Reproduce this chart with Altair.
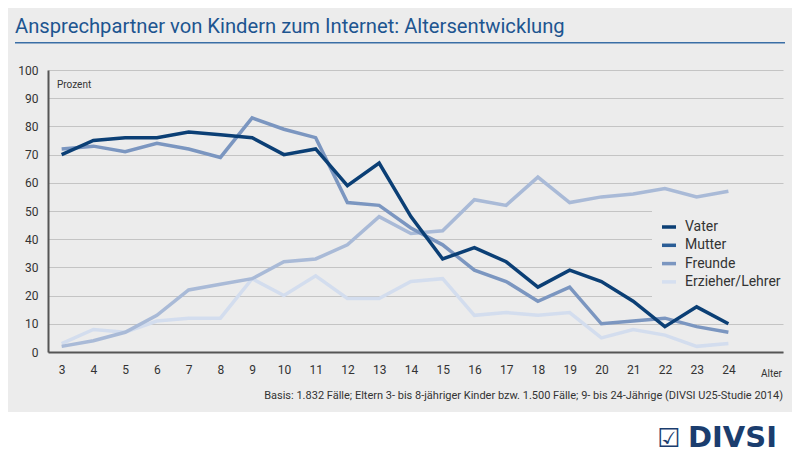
import altair as alt
import pandas as pd

ages = list(range(3, 25))
vater = [70, 75, 76, 76, 78, 77, 76, 70, 72, 59, 67, 48, 33, 37, 32, 23, 29, 25, 18, 9, 16, 10]
mutter = [72, 73, 71, 74, 72, 69, 83, 79, 76, 53, 52, 44, 38, 29, 25, 18, 23, 10, 11, 12, 9, 7]
freunde = [2, 4, 7, 13, 22, 24, 26, 32, 33, 38, 48, 42, 43, 54, 52, 62, 53, 55, 56, 58, 55, 57]
erzieher = [3, 8, 7, 11, 12, 12, 26, 20, 27, 19, 19, 25, 26, 13, 14, 13, 14, 5, 8, 6, 2, 3]

series = ["Vater", "Mutter", "Freunde", "Erzieher/Lehrer"]
line_colors = ["#0b3f75", "#7b96c0", "#a9bad7", "#d3ddee"]
legend_colors = ["#0b3f75", "#2a5d96", "#7b96c0", "#d5dff0"]
x_ticks = ages
y_ticks = list(range(0, 101, 10))

title_text = "Ansprechpartner von Kindern zum Internet: Altersentwicklung"
note_text = "Basis: 1.832 Fälle; Eltern 3- bis 8-jähriger Kinder bzw. 1.500 Fälle; 9- bis 24-Jährige (DIVSI U25-Studie 2014)"

rows = []
for name, vals, order in [("Erzieher/Lehrer", erzieher, 0), ("Freunde", freunde, 1),
                          ("Mutter", mutter, 2), ("Vater", vater, 3)]:
    for a, v in zip(ages, vals):
        rows.append({"Alter": a, "Wert": v, "Serie": name, "ord": order})
df = pd.DataFrame(rows)

FONT = "Roboto"
BG = "#ececec"
W, H = 735, 282

x_enc = alt.X("Alter:Q", scale=alt.Scale(domain=[2.57, 25.72], nice=False, zero=False),
              axis=alt.Axis(values=x_ticks, tickCount=len(x_ticks) + 5, title=None,
                            grid=False, ticks=False, labelOverlap=False, format="d",
                            domainColor="#555555", domainWidth=2, labelPadding=12,
                            labelFontSize=12, labelColor="#333333", labelFont=FONT))
y_enc = alt.Y("Wert:Q", scale=alt.Scale(domain=[0, 100], nice=False),
              axis=alt.Axis(values=y_ticks, tickCount=len(y_ticks) + 5, title=None,
                            ticks=False, grid=True, labelOverlap=False, format="d",
                            gridColor="#c4c4c4", gridWidth=1.2,
                            domainColor="#555555", domainWidth=2, labelPadding=10,
                            labelFontSize=12, labelColor="#333333", labelFont=FONT))

base = alt.Chart(df)

lines = base.mark_line(strokeWidth=3.5, strokeJoin="miter").encode(
    x=x_enc, y=y_enc,
    color=alt.Color("Serie:N", scale=alt.Scale(domain=series, range=line_colors), legend=None),
    order=alt.Order("ord:Q"),
)

legend_layer = base.mark_line(strokeWidth=3.5, opacity=0).encode(
    x=x_enc, y=y_enc,
    stroke=alt.Stroke("Serie:N", scale=alt.Scale(domain=series, range=legend_colors),
                      legend=alt.Legend(title=None, orient="none", legendX=604, legendY=140,
                                        symbolType="stroke", symbolSize=196,
                                        symbolStrokeWidth=3.5, symbolOpacity=1,
                                        labelFontSize=14, labelColor="#333333",
                                        labelFont=FONT, labelOffset=7, rowPadding=2.3,
                                        fillColor=BG, padding=8)),
)

one = alt.Data(values=[{}])

def txt(text, x, y, size, color="#333333", align="left", weight="normal", font=FONT):
    return alt.Chart(one).mark_text(text=text, align=align, baseline="alphabetic",
                                    fontSize=size, color=color, fontWeight=weight,
                                    font=font).encode(x=alt.value(x), y=alt.value(y))

title = txt(title_text, -33, -37, 20.2, color="#1d5590")
underline = alt.Chart(one).mark_rule(color="#3a6ea5", strokeWidth=1.5).encode(
    x=alt.value(-33), x2=alt.value(737), y=alt.value(-27.3))
prozent = txt("Prozent", 9, 18, 10)
alter = txt("Alter", 734, 307, 10, align="right")
note = txt(note_text, 735, 329, 11, align="right")
white = alt.Chart(one).mark_rect(color="white").encode(
    x=alt.value(-40), x2=alt.value(744), y=alt.value(342), y2=alt.value(385))
logo_icon = txt("☑", 609, 377, 26, color="#1b3d6e", font="DejaVu Sans")
logo = txt("DIVSI", 640, 377, 29, color="#1b3d6e", weight="bold", font="DejaVu Sans")

chart = alt.layer(white, lines, legend_layer, title, underline, prozent, alter, note,
                  logo_icon, logo).resolve_scale(color="independent").properties(
    width=W, height=H,
    background=BG,
    autosize=alt.AutoSizeParams(type="none"),
    padding={"left": 40, "top": 62, "right": 9, "bottom": 103},
).configure_view(stroke=None)

chart.save("out.html", embed_options={"renderer": "svg", "actions": False})
